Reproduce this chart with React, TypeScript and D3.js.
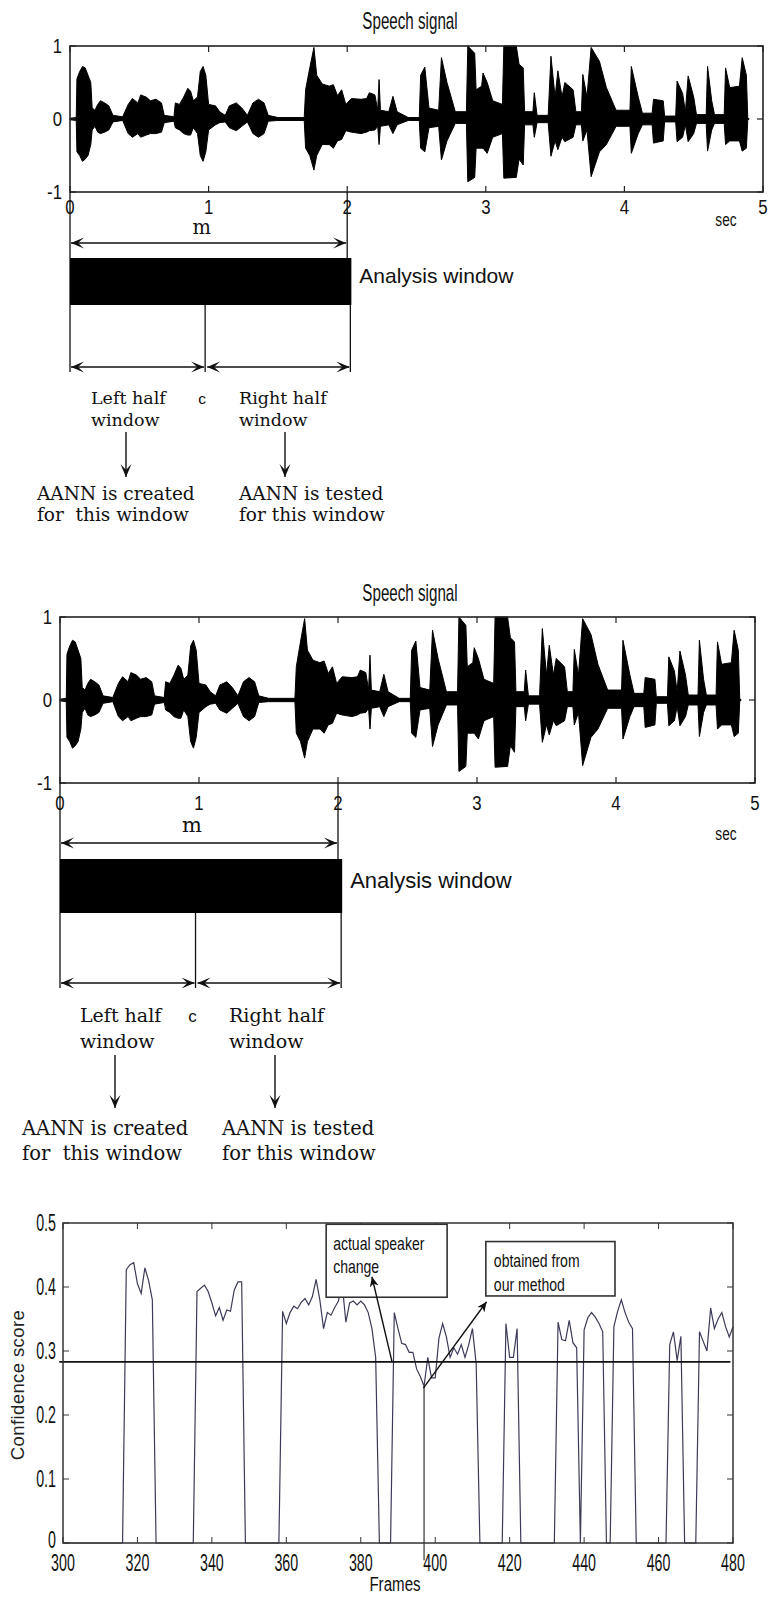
import React from 'react';
import * as d3 from 'd3';

// speech signal envelope: time (s), upper and lower amplitude
const sigTime = [0, 0.045, 0.05, 0.07, 0.09, 0.11, 0.13, 0.15, 0.16, 0.18, 0.2, 0.22, 0.25, 0.28, 0.31, 0.38, 0.42, 0.45, 0.49, 0.51, 0.55, 0.58, 0.62, 0.66, 0.68, 0.75, 0.76, 0.79, 0.82, 0.85, 0.87, 0.89, 0.92, 0.94, 0.96, 0.98, 1.0, 1.05, 1.08, 1.12, 1.15, 1.2, 1.24, 1.28, 1.32, 1.36, 1.4, 1.43, 1.5, 1.69, 1.7, 1.73, 1.76, 1.78, 1.82, 1.87, 1.9, 1.93, 1.96, 1.99, 2.03, 2.1, 2.14, 2.16, 2.2, 2.22, 2.23, 2.24, 2.3, 2.33, 2.36, 2.44, 2.52, 2.53, 2.56, 2.59, 2.66, 2.68, 2.72, 2.78, 2.86, 2.87, 2.92, 2.93, 2.97, 2.98, 3.01, 3.05, 3.12, 3.13, 3.22, 3.24, 3.27, 3.28, 3.34, 3.35, 3.37, 3.45, 3.47, 3.5, 3.52, 3.55, 3.57, 3.63, 3.65, 3.69, 3.7, 3.73, 3.76, 3.82, 3.87, 3.94, 4.04, 4.05, 4.1, 4.13, 4.2, 4.21, 4.28, 4.29, 4.37, 4.38, 4.42, 4.44, 4.46, 4.5, 4.52, 4.59, 4.6, 4.63, 4.65, 4.72, 4.73, 4.76, 4.83, 4.85, 4.88, 4.89, 4.9];
const sigHigh = [0.01, 0.02, 0.55, 0.65, 0.72, 0.7, 0.6, 0.5, 0.15, 0.12, 0.2, 0.25, 0.22, 0.18, 0.05, 0.03, 0.2, 0.28, 0.22, 0.33, 0.3, 0.25, 0.27, 0.22, 0.05, 0.03, 0.22, 0.2, 0.3, 0.42, 0.38, 0.25, 0.3, 0.65, 0.72, 0.6, 0.2, 0.18, 0.1, 0.05, 0.18, 0.22, 0.15, 0.05, 0.22, 0.27, 0.22, 0.05, 0.02, 0.02, 0.4, 0.7, 0.98, 0.6, 0.48, 0.45, 0.47, 0.32, 0.4, 0.2, 0.28, 0.27, 0.28, 0.36, 0.33, 0.12, 0.54, 0.12, 0.1, 0.31, 0.1, 0.02, 0.02, 0.6, 0.71, 0.15, 0.12, 0.84, 0.5, 0.1, 0.1, 1.0, 0.9, 0.4, 0.45, 0.63, 0.5, 0.25, 0.2, 1.0, 1.0, 0.75, 0.7, 0.1, 0.1, 0.36, 0.05, 0.05, 0.86, 0.3, 0.66, 0.3, 0.5, 0.4, 0.1, 0.1, 0.61, 0.3, 0.98, 0.79, 0.43, 0.12, 0.12, 0.72, 0.3, 0.08, 0.08, 0.27, 0.25, 0.04, 0.04, 0.52, 0.35, 0.1, 0.59, 0.3, 0.06, 0.06, 0.72, 0.25, 0.06, 0.06, 0.7, 0.43, 0.45, 0.84, 0.6, 0.02, 0];
const sigLow = [-0.01, -0.02, -0.45, -0.5, -0.58, -0.55, -0.5, -0.35, -0.15, -0.1, -0.18, -0.2, -0.18, -0.15, -0.04, -0.02, -0.2, -0.25, -0.2, -0.25, -0.22, -0.2, -0.2, -0.18, -0.05, -0.03, -0.12, -0.15, -0.2, -0.22, -0.22, -0.12, -0.2, -0.5, -0.58, -0.45, -0.15, -0.08, -0.05, -0.04, -0.12, -0.16, -0.1, -0.04, -0.2, -0.25, -0.2, -0.03, -0.02, -0.02, -0.4, -0.5, -0.7, -0.5, -0.35, -0.35, -0.4, -0.3, -0.28, -0.16, -0.18, -0.2, -0.18, -0.16, -0.15, -0.1, -0.35, -0.1, -0.08, -0.2, -0.08, -0.02, -0.02, -0.4, -0.45, -0.12, -0.1, -0.56, -0.3, -0.06, -0.06, -0.86, -0.8, -0.4, -0.4, -0.4, -0.47, -0.25, -0.2, -0.81, -0.8, -0.55, -0.63, -0.08, -0.08, -0.25, -0.05, -0.05, -0.51, -0.3, -0.42, -0.25, -0.31, -0.25, -0.08, -0.08, -0.3, -0.15, -0.79, -0.45, -0.35, -0.1, -0.1, -0.47, -0.2, -0.08, -0.08, -0.33, -0.3, -0.04, -0.04, -0.31, -0.25, -0.08, -0.31, -0.2, -0.06, -0.06, -0.44, -0.15, -0.06, -0.06, -0.35, -0.3, -0.3, -0.44, -0.4, -0.02, 0];

const secTicks = [0, 1, 2, 3, 4, 5];
const ampTicks = [-1, 0, 1];

// analysis window (s)
const winStart = 0;
const winEnd = 2.03;
const winCenter = 0.975;

// confidence score per frame
const frames = [300, 316, 317, 318, 319, 320, 321, 322, 323, 324, 325, 335, 336, 337, 338, 339, 340, 341, 342, 343, 344, 345, 346, 347, 348, 349, 358, 359, 360, 361, 362, 363, 364, 365, 366, 367, 368, 369, 370, 371, 372, 373, 374, 375, 376, 377, 378, 379, 380, 381, 382, 383, 384, 385, 388, 389, 390, 391, 392, 393, 394, 395, 396, 397, 398, 399, 400, 401, 402, 403, 404, 405, 406, 407, 408, 409, 410, 411, 412, 418, 419, 420, 421, 422, 423, 432, 433, 434, 435, 436, 437, 438, 439, 440, 441, 442, 443, 444, 445, 446, 447, 448, 449, 450, 451, 452, 453, 454, 462, 463, 464, 465, 466, 467, 470, 471, 472, 473, 474, 475, 476, 477, 478, 479, 480];
const confidence = [0, 0, 0.427, 0.435, 0.438, 0.405, 0.39, 0.43, 0.41, 0.38, 0, 0, 0.393, 0.398, 0.403, 0.393, 0.375, 0.355, 0.368, 0.348, 0.364, 0.362, 0.395, 0.408, 0.408, 0, 0, 0.362, 0.343, 0.36, 0.37, 0.366, 0.376, 0.382, 0.372, 0.385, 0.412, 0.38, 0.335, 0.36, 0.356, 0.368, 0.378, 0.405, 0.345, 0.375, 0.378, 0.372, 0.378, 0.372, 0.36, 0.335, 0.29, 0, 0, 0.36, 0.335, 0.312, 0.31, 0.298, 0.298, 0.272, 0.26, 0.245, 0.29, 0.258, 0.258, 0.32, 0.343, 0.322, 0.29, 0.305, 0.295, 0.31, 0.29, 0.31, 0.335, 0.28, 0, 0, 0.343, 0.29, 0.29, 0.335, 0, 0, 0.345, 0.318, 0.316, 0.348, 0.313, 0.305, 0, 0.333, 0.352, 0.36, 0.353, 0.343, 0.33, 0, 0, 0.338, 0.362, 0.38, 0.36, 0.345, 0.335, 0, 0, 0.31, 0.33, 0.285, 0.323, 0, 0, 0.33, 0.315, 0.3, 0.367, 0.335, 0.35, 0.36, 0.338, 0.322, 0.338];
const threshold = 0.283;
const frameTicks = [300, 320, 340, 360, 380, 400, 420, 440, 460, 480];
const scoreTicks = [0, 0.1, 0.2, 0.3, 0.4, 0.5];

const SANS = 'Liberation Sans, Arial, sans-serif';
const SERIF = 'DejaVu Serif, serif';

// condensed matlab-ish text
const Narrow = ({ x, y, s = 0.72, size = 18, anchor = 'middle', children }: any) => (
  <text
    transform={`translate(${x},${y}) scale(${s},1)`}
    fontFamily={SANS}
    fontSize={size}
    textAnchor={anchor}
    fill="#111"
  >
    {children}
  </text>
);

const Arrow = ({ x1, y1, x2, y2, both = false, id = 'stealth' }: any) => (
  <line
    x1={x1} y1={y1} x2={x2} y2={y2}
    stroke="#111" strokeWidth={1.4}
    markerEnd={`url(#${id})`}
    markerStart={both ? `url(#${id})` : undefined}
  />
);

function SpeechPanel({ L, D }: any) {
  const x = d3.scaleLinear().domain([0, 5]).range([L.left, L.right]);
  const y = d3.scaleLinear().domain([-1, 1]).range([L.bottom, L.top]);
  const idx = d3.range(sigTime.length);
  const area = d3.area<number>()
    .x(i => x(sigTime[i]))
    .y0(i => y(sigLow[i]))
    .y1(i => y(sigHigh[i]));
  const fs = D.fontSize;

  return (
    <g>
      <Narrow x={L.titleX} y={L.titleY} size={23} s={0.66}>Speech signal</Narrow>
      <path d={area(idx) || ''} fill="#000" stroke="#000" strokeWidth={1} strokeLinejoin="miter" />
      <line x1={x(0)} x2={x(4.9)} y1={y(0)} y2={y(0)} stroke="#000" strokeWidth={1.6} />
      <rect x={L.left} y={L.top} width={L.right - L.left} height={L.bottom - L.top}
        fill="none" stroke="#222" strokeWidth={1.6} />
      {secTicks.map(t => (
        <g key={t}>
          <line x1={x(t)} x2={x(t)} y1={L.top} y2={L.top + 6} stroke="#222" strokeWidth={1.2} />
          <line x1={x(t)} x2={x(t)} y1={L.bottom} y2={L.bottom - 6} stroke="#222" strokeWidth={1.2} />
          <Narrow x={x(t)} y={L.bottom + L.tickOff} size={21} s={0.8}>{t}</Narrow>
        </g>
      ))}
      {ampTicks.map(t => (
        <g key={t}>
          <line x1={L.left} x2={L.left + 6} y1={y(t)} y2={y(t)} stroke="#222" strokeWidth={1.2} />
          <line x1={L.right} x2={L.right - 6} y1={y(t)} y2={y(t)} stroke="#222" strokeWidth={1.2} />
          <Narrow x={L.left - 8} y={y(t) + 7} size={21} s={0.8} anchor="end">{t}</Narrow>
        </g>
      ))}
      <Narrow x={L.secX} y={L.secY} size={19} s={0.72}>sec</Narrow>

      {/* analysis window sketch */}
      <line x1={x(winStart)} x2={x(winStart)} y1={L.bottom} y2={D.lineBot} stroke="#111" strokeWidth={1.3} />
      <line x1={x(2)} x2={x(2)} y1={L.bottom} y2={D.rectTop} stroke="#111" strokeWidth={1.3} />
      <text x={x(0.95)} y={D.mY} fontFamily={SERIF} fontSize={fs + 2} textAnchor="middle" fill="#111">m</text>
      <Arrow x1={x(winStart) + 1} y1={D.arrowY} x2={x(2) - 1} y2={D.arrowY} both />
      <rect x={x(winStart)} y={D.rectTop} width={x(winEnd) - x(winStart)} height={D.rectBot - D.rectTop} fill="#000" />
      <text x={x(winEnd) + 8} y={D.windowY} fontFamily={SANS} fontSize={D.winSize} fill="#111">Analysis window</text>
      <line x1={x(winCenter)} x2={x(winCenter)} y1={D.rectBot} y2={D.lineBot} stroke="#111" strokeWidth={1.3} />
      <line x1={x(winEnd) - 1} x2={x(winEnd) - 1} y1={D.rectBot} y2={D.lineBot} stroke="#111" strokeWidth={1.3} />
      <Arrow x1={x(winStart) + 1} y1={D.halfY} x2={x(winCenter) - 1} y2={D.halfY} both />
      <Arrow x1={x(winCenter) + 2} y1={D.halfY} x2={x(winEnd) - 2} y2={D.halfY} both />

      <g fontFamily={SERIF} fontSize={fs} fill="#111">
        <text x={D.leftX} y={D.labY1}>Left half</text>
        <text x={D.leftX} y={D.labY2}>window</text>
        <text x={D.rightX} y={D.labY1}>Right half</text>
        <text x={D.rightX} y={D.labY2}>window</text>
      </g>
      <g fontFamily={SERIF} fontSize={D.aannSize} fill="#111">
        <text x={D.aannLX} y={D.aannY1}>AANN is created</text>
        <text x={D.aannLX} y={D.aannY2} xmlSpace="preserve">for  this window</text>
        <text x={D.aannRX} y={D.aannY1}>AANN is tested</text>
        <text x={D.aannRX} y={D.aannY2}>for this window</text>
      </g>
      <text x={x(winCenter) - 3} y={D.labY1} fontFamily={SANS} fontSize={fs - 2} textAnchor="middle" fill="#111">c</text>
      <Arrow x1={D.downLX} y1={D.downTop} x2={D.downLX} y2={D.downBot} />
      <Arrow x1={D.downRX} y1={D.downTop} x2={D.downRX} y2={D.downBot} />
    </g>
  );
}

const topPanel = { left: 70, right: 763, top: 46, bottom: 192, titleX: 410, titleY: 29, secX: 726, secY: 226, tickOff: 22 };
const topDiag = {
  fontSize: 17.5, winSize: 21, aannSize: 18.5, mY: 234, arrowY: 243, rectTop: 258, rectBot: 305, windowY: 283,
  lineBot: 372, halfY: 367, leftX: 91, rightX: 239, labY1: 404, labY2: 426, aannLX: 37, aannRX: 239,
  aannY1: 500, aannY2: 521, downLX: 126, downRX: 285, downTop: 432, downBot: 477,
};
const midPanel = { left: 60, right: 755, top: 617, bottom: 783, titleX: 410, titleY: 601, secX: 726, secY: 840, tickOff: 27 };
const midDiag = {
  fontSize: 19, winSize: 22, aannSize: 19.5, mY: 832, arrowY: 843, rectTop: 859, rectBot: 913, windowY: 888,
  lineBot: 988, halfY: 983, leftX: 80, rightX: 229, labY1: 1022, labY2: 1048, aannLX: 22, aannRX: 222,
  aannY1: 1135, aannY2: 1160, downLX: 115, downRX: 275, downTop: 1055, downBot: 1108,
};

function ConfidenceChart() {
  const L = { left: 63, right: 733, top: 1223, bottom: 1543 };
  const x = d3.scaleLinear().domain([300, 480]).range([L.left, L.right]);
  const y = d3.scaleLinear().domain([0, 0.5]).range([L.bottom, L.top]);
  const idx = d3.range(frames.length);
  const line = d3.line<number>().x(i => x(frames[i])).y(i => y(confidence[i]));

  // annotation boxes in data space
  const box1 = { f0: 370.7, f1: 403.2, v0: 0.498, v1: 0.384 };
  const box2 = { f0: 413.6, f1: 448.3, v0: 0.471, v1: 0.386 };

  return (
    <g>
      <path d={line(idx) || ''} fill="none" stroke="#3b3b58" strokeWidth={1.2} />
      <line x1={x(299)} x2={x(479.3)} y1={y(threshold)} y2={y(threshold)} stroke="#111" strokeWidth={1.6} />
      <line x1={x(397)} x2={x(397)} y1={y(0.245)} y2={y(-0.027)} stroke="#333" strokeWidth={1.2} />
      <rect x={L.left} y={L.top} width={L.right - L.left} height={L.bottom - L.top} fill="none" stroke="#333" strokeWidth={1.5} />
      {frameTicks.map(t => (
        <g key={t}>
          <line x1={x(t)} x2={x(t)} y1={L.top} y2={L.top + 6} stroke="#333" />
          <line x1={x(t)} x2={x(t)} y1={L.bottom} y2={L.bottom - 6} stroke="#333" />
          <Narrow x={x(t)} y={L.bottom + 28} size={23} s={0.62}>{t}</Narrow>
        </g>
      ))}
      {scoreTicks.map(t => (
        <g key={t}>
          <line x1={L.left} x2={L.left + 6} y1={y(t)} y2={y(t)} stroke="#333" />
          <line x1={L.right} x2={L.right - 6} y1={y(t)} y2={y(t)} stroke="#333" />
          <Narrow x={L.left - 7} y={y(t) + (t === 0 ? 5 : 8)} size={23} s={0.62} anchor="end">{t === 0 ? '0' : t.toFixed(1)}</Narrow>
        </g>
      ))}
      <Narrow x={395} y={1591} size={21} s={0.72}>Frames</Narrow>
      <text transform={`translate(24,${(L.top + L.bottom) / 2 + 2}) rotate(-90)`} fontFamily={SANS} fontSize={18.5}
        letterSpacing={0.4} textAnchor="middle" fill="#222">Confidence score</text>

      <rect x={x(box1.f0)} y={y(box1.v0)} width={x(box1.f1) - x(box1.f0)} height={y(box1.v1) - y(box1.v0)}
        fill="#fff" stroke="#333" strokeWidth={1.6} />
      <Narrow x={x(box1.f0) + 7} y={y(box1.v0) + 26} size={18} s={0.78} anchor="start">actual speaker</Narrow>
      <Narrow x={x(box1.f0) + 7} y={y(box1.v0) + 49} size={18} s={0.78} anchor="start">change</Narrow>
      <rect x={x(box2.f0)} y={y(box2.v0)} width={x(box2.f1) - x(box2.f0)} height={y(box2.v1) - y(box2.v0)}
        fill="#fff" stroke="#333" strokeWidth={1.6} />
      <Narrow x={x(box2.f0) + 8} y={y(box2.v0) + 25} size={18} s={0.78} anchor="start">obtained from</Narrow>
      <Narrow x={x(box2.f0) + 8} y={y(box2.v0) + 49} size={18} s={0.78} anchor="start">our method</Narrow>

      <Arrow x1={x(388.4)} y1={y(0.283)} x2={x(383)} y2={y(0.416)} id="small" />
      <Arrow x1={x(396.8)} y1={y(0.242)} x2={x(413.8)} y2={y(0.377)} id="small" />
    </g>
  );
}

const App = () => {
  return (
    <svg width={769} height={1597} style={{ position: 'absolute', left: 0, top: 0, background: '#fff' }}>
      <defs>
        <marker id="stealth" viewBox="-13 -6 13 12" refX={0} refY={0} markerWidth={13} markerHeight={12}
          markerUnits="userSpaceOnUse" orient="auto-start-reverse">
          <path d="M0,0 L-13,-5.5 L-7,0 L-13,5.5 Z" fill="#111" />
        </marker>
        <marker id="small" viewBox="-10 -5 10 10" refX={0} refY={0} markerWidth={10} markerHeight={10}
          markerUnits="userSpaceOnUse" orient="auto">
          <path d="M0,0 L-10,-4.5 L-7,0 L-10,4.5 Z" fill="#111" />
        </marker>
      </defs>
      <SpeechPanel L={topPanel} D={topDiag} />
      <SpeechPanel L={midPanel} D={midDiag} />
      <ConfidenceChart />
    </svg>
  );
};

export default App;
